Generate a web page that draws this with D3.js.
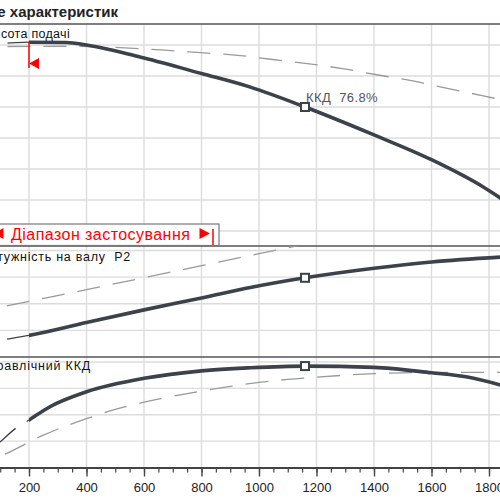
<!DOCTYPE html>
<html>
<head>
<meta charset="utf-8">
<script src="https://cdn.jsdelivr.net/npm/d3@7"></script>
<style>
body { margin: 0; background: #fff; }
svg { display: block; font-family: "Liberation Sans", Arial, sans-serif; }
</style>
</head>
<body>
<svg width="500" height="500"></svg>
<script>
// flow Q (m3/h) against head H (m), shaft power P2 (kW), hydraulic efficiency (%)
var headPoints = [[0, 40.2], [123, 40.3], [200, 40.45], [330, 40.4], [400, 40.0], [600, 37.9],
    [800, 35.4], [970, 33.2], [1160, 30.0], [1400, 25.5], [1600, 21.5], [1780, 17.1], [1850, 15.0]];
var headDashed = [[0, 39.7], [330, 39.8], [660, 39.2], [785, 38.8], [935, 38.3], [1040, 37.7],
    [1160, 37.05], [1290, 36.2], [1410, 35.2], [1535, 34.2], [1655, 33.0], [1780, 31.8], [1850, 31.1]];

var powerPoints = [[0, 69.2], [123, 73.4], [200, 76.2], [400, 85.9], [600, 95.4], [800, 104.3],
    [970, 112.2], [1160, 119.5], [1400, 126.7], [1600, 131.4], [1850, 135.2]];
var powerDashed = [[0, 93], [200, 101.8], [400, 110.6], [600, 119.6], [800, 128.6],
    [1000, 137.6], [1200, 146.5], [1400, 155]];

var effPoints = [[0, 0], [100, 19.5], [155, 29.9], [200, 36.0], [273, 46.1], [400, 57.4],
    [600, 67.6], [800, 73.3], [970, 75.6], [1160, 76.9], [1400, 75.9], [1600, 71.8],
    [1725, 68.6], [1850, 62.0]];
var effDashed = [[0, 0], [110, 9.5], [250, 24.5], [400, 37], [500, 44], [600, 49.5], [700, 54],
    [800, 58], [900, 61.5], [1000, 64.5], [1100, 66.8], [1200, 68.5], [1300, 70], [1400, 71.2],
    [1500, 71.8], [1600, 72.1], [1700, 72.2], [1850, 72.2]];

// duty point
var bepQ = 1160;
var bepValues = [30.0, 119.5, 76.9];
var bepLabel = "ККД  76.8%";

// operating range
var rangeStart = 200;
var rangeEnd = 840;
var rangeLabel = "Діапазон застосування";

var xTicks = [200, 400, 600, 800, 1000, 1200, 1400, 1600, 1800];
var xMinorTicks = d3.range(0, 2001, 50);
var headTicks = [10, 15, 20, 25, 30, 35, 40];
var powerTicks = [80, 100, 120, 140];
var effTicks = [20, 40, 60, 80];

var titleText = "Поле характеристик";
var headTitle = "Висота подачі";
var powerTitle = "Потужність на валу  P2";
var effTitle = "Гідравлічний ККД";

var svg = d3.select("svg");

var x = d3.scaleLinear().domain([0, 2000]).range([-28.5, 546.5]);
var yHead = d3.scaleLinear().domain([10, 40]).range([231, 45]);
var yPower = d3.scaleLinear().domain([60, 140]).range([357, 250.5]);
var yEff = d3.scaleLinear().domain([0, 80]).range([467.5, 362]);

var panels = [
    {id: "head", y: yHead, top: 24, bottom: 246, ticks: headTicks, pts: headPoints, dash: headDashed,
        title: headTitle, titleEnd: 70, titleY: 38, spacing: 0.3},
    {id: "power", y: yPower, top: 246, bottom: 357, ticks: powerTicks, pts: powerPoints, dash: powerDashed,
        title: powerTitle, titleEnd: 131, titleY: 261, spacing: 0.75},
    {id: "eff", y: yEff, top: 357, bottom: 467.5, ticks: effTicks, pts: effPoints, dash: effDashed,
        title: effTitle, titleEnd: 91, titleY: 370, spacing: 0.8}
];

var defs = svg.append("defs");
panels.forEach(function (p) {
    defs.append("clipPath").attr("id", "clip-" + p.id)
        .append("rect").attr("x", 0).attr("y", p.top).attr("width", 500).attr("height", p.bottom - p.top);
    defs.append("clipPath").attr("id", "clip-" + p.id + "-hi")
        .append("rect").attr("x", x(rangeStart)).attr("y", p.top).attr("width", 500).attr("height", p.bottom - p.top);
    defs.append("clipPath").attr("id", "clip-" + p.id + "-lo")
        .append("rect").attr("x", 0).attr("y", p.top).attr("width", x(rangeStart)).attr("height", p.bottom - p.top);
});

// grid
var grid = svg.append("g").attr("stroke", "#dcdcdc").attr("stroke-width", 1.4);
grid.selectAll(".vgrid").data(xTicks).enter().append("line")
    .attr("x1", function (d) { return x(d) }).attr("x2", function (d) { return x(d) })
    .attr("y1", 24).attr("y2", 467.5);
panels.forEach(function (p) {
    grid.selectAll(".h-" + p.id).data(p.ticks).enter().append("line")
        .attr("x1", 0).attr("x2", 500)
        .attr("y1", function (d) { return p.y(d) }).attr("y2", function (d) { return p.y(d) });
});

// separators
svg.append("g").attr("stroke", "#555").attr("stroke-width", 1.5)
    .selectAll("line").data([24, 246, 357]).enter().append("line")
    .attr("x1", 0).attr("x2", 500)
    .attr("y1", function (d) { return d }).attr("y2", function (d) { return d });

// curves
panels.forEach(function (p) {
    var line = d3.line()
        .x(function (d) { return x(d[0]) })
        .y(function (d) { return p.y(d[1]) })
        .curve(d3.curveMonotoneX);
    var g = svg.append("g").attr("fill", "none");
    g.append("path").datum(p.dash)
        .attr("clip-path", "url(#clip-" + p.id + ")")
        .attr("stroke", "#9a9a9a").attr("stroke-width", 1.3)
        .attr("stroke-dasharray", "23,13")
        .attr("d", line);
    g.append("path").datum(p.pts)
        .attr("clip-path", "url(#clip-" + p.id + "-lo)")
        .attr("stroke", "#3b424b").attr("stroke-width", 1.3)
        .attr("stroke-dasharray", "23,13")
        .attr("d", line);
    g.append("path").datum(p.pts)
        .attr("clip-path", "url(#clip-" + p.id + "-hi)")
        .attr("stroke", "#3b424b").attr("stroke-width", 3.6)
        .attr("d", line);

    svg.append("text")
        .text(p.title)
        .attr("x", p.titleEnd).attr("y", p.titleY)
        .attr("text-anchor", "end")
        .style("white-space", "pre")
        .attr("font-size", 12.5)
        .attr("letter-spacing", p.spacing)
        .attr("fill", "#111");
});

// duty point markers
svg.append("g").selectAll("rect").data(bepValues).enter().append("rect")
    .attr("x", x(bepQ) - 4).attr("width", 8).attr("height", 8)
    .attr("y", function (d, i) { return panels[i].y(d) - 4 })
    .attr("fill", "#fff").attr("stroke", "#3b424b").attr("stroke-width", 2);

svg.append("text")
    .text(bepLabel)
    .style("white-space", "pre")
    .attr("x", x(bepQ) + 1).attr("y", yHead(bepValues[0]) - 5)
    .attr("font-size", 13)
    .attr("letter-spacing", 0.4)
    .attr("fill", "#555");

// left limit marker on head curve
svg.append("line")
    .attr("x1", x(rangeStart)).attr("x2", x(rangeStart))
    .attr("y1", 42).attr("y2", 68)
    .attr("stroke", "#ff0000").attr("stroke-width", 1.5);
svg.append("path")
    .attr("d", "M" + x(rangeStart) + ",63.5 L" + (x(rangeStart) + 10) + ",58 L" + (x(rangeStart) + 10) + ",69 Z")
    .attr("fill", "#ff0000");

// operating range bar
var bar = svg.append("g");
bar.append("rect")
    .attr("x", -30).attr("y", 224)
    .attr("width", 249).attr("height", 21.5)
    .attr("fill", "#fff").attr("stroke", "#777").attr("stroke-width", 1.2);
bar.append("path")
    .attr("d", "M-6.5,233.5 L3.5,228 L3.5,239 Z")
    .attr("fill", "#ff0000");
bar.append("text")
    .text(rangeLabel)
    .attr("x", 11).attr("y", 239.5)
    .attr("font-size", 16)
    .attr("letter-spacing", 0.45)
    .attr("fill", "#ff0000");
bar.append("path")
    .attr("d", "M" + (x(rangeEnd) - 13.5) + ",228 L" + (x(rangeEnd) - 3) + ",233.5 L" + (x(rangeEnd) - 13.5) + ",239 Z")
    .attr("fill", "#ff0000");
bar.append("line")
    .attr("x1", x(rangeEnd)).attr("x2", x(rangeEnd))
    .attr("y1", 229).attr("y2", 245)
    .attr("stroke", "#ff0000").attr("stroke-width", 1.5);

// title
svg.append("text")
    .text(titleText)
    .attr("x", 118).attr("y", 17)
    .attr("text-anchor", "end")
    .attr("font-size", 15)
    .attr("font-weight", "bold")
    .attr("fill", "#222");

// x axis
var minorAxis = d3.axisBottom(x).tickValues(xMinorTicks).tickSize(5).tickSizeOuter(0).tickFormat("");
var majorAxis = d3.axisBottom(x).tickValues(xTicks).tickSize(9).tickSizeOuter(0).tickPadding(6)
    .tickFormat(d3.format("d"));

var gMinor = svg.append("g").attr("transform", "translate(0,467.5)").call(minorAxis);
gMinor.select(".domain").remove();
gMinor.selectAll("line").attr("stroke", "#444").attr("stroke-width", 1.2);

var gMajor = svg.append("g").attr("transform", "translate(0,467.5)").call(majorAxis);
gMajor.select(".domain").attr("stroke", "#444").attr("stroke-width", 2);
gMajor.selectAll("line").attr("stroke", "#444").attr("stroke-width", 1.4);
gMajor.selectAll("text")
    .attr("font-family", "Liberation Sans, Arial, sans-serif")
    .attr("font-size", 13)
    .attr("fill", "#222");
</script>
</body>
</html>
